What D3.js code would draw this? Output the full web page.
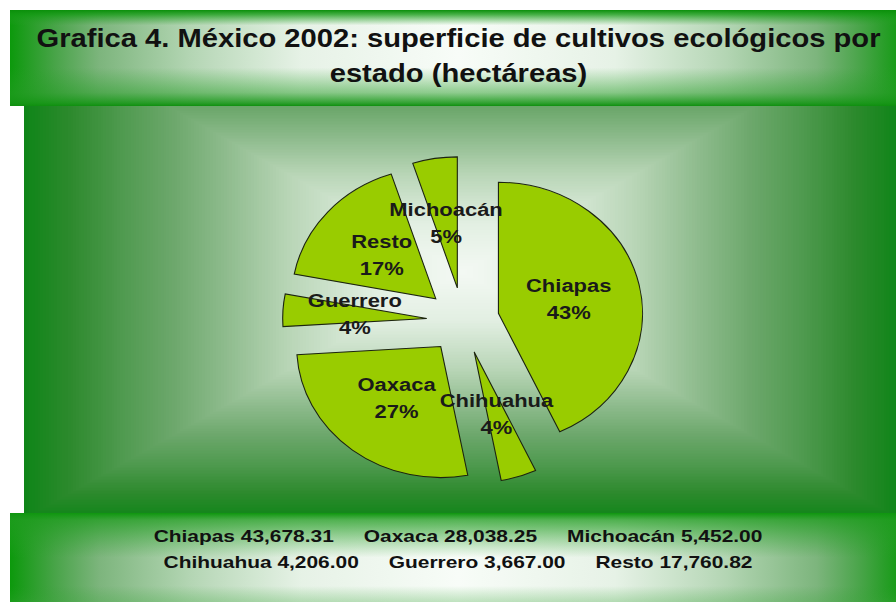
<!DOCTYPE html>
<html>
<head>
<meta charset="utf-8">
<script src="https://cdn.jsdelivr.net/npm/d3@7/dist/d3.min.js"></script>
<style>
  html, body { margin: 0; padding: 0; background: #ffffff; }
  svg { display: block; }
  text { font-family: "Liberation Sans", Arial, Helvetica, sans-serif; font-weight: bold; fill: #111111; }
</style>
</head>
<body>
<svg id="chart" width="896" height="602"></svg>
<script>
// Title lines
const titleLines = ["Grafica 4. México 2002: superficie de cultivos ecológicos por", "estado (hectáreas)"];

// Pie slices, clockwise from twelve o'clock (percent shares)
const pieStates = ["Chiapas", "Chihuahua", "Oaxaca", "Guerrero", "Resto", "Michoacán"];
const piePct = [43, 4, 27, 4, 17, 5];

// Hectares per state, as listed under the chart
const legendStates = ["Chiapas", "Oaxaca", "Michoacán", "Chihuahua", "Guerrero", "Resto"];
const legendHectares = [43678.31, 28038.25, 5452.00, 4206.00, 3667.00, 17760.82];

const W = 896, H = 602;
const svg = d3.select("#chart");
const defs = svg.append("defs");

// ---------- helpers ----------
function stretchCentered(sel, cx, factor) {
  sel.each(function () {
    const w = this.getComputedTextLength() * factor;
    d3.select(this)
      .attr("text-anchor", "start")
      .attr("x", cx - w / 2)
      .attr("textLength", w)
      .attr("lengthAdjust", "spacingAndGlyphs");
  });
}

// ---------- central panel with a rectangular (concentric) gradient ----------
const panel = { x: 24, y: 106, w: 872, h: 407 };
const panelRamp = d3.scaleLinear()
  .domain([0, 0.2, 0.4, 0.55, 0.665, 0.78, 0.894, 1])
  .range(["#f4f9f4", "#e2efe2", "#b8d5b6", "#8cba8b", "#6ca76b", "#4f9a4f", "#2e8a2e", "#0f8518"])
  .interpolate(d3.interpolateRgb);

defs.append("clipPath").attr("id", "panelClip")
  .append("rect").attr("x", panel.x).attr("y", panel.y).attr("width", panel.w).attr("height", panel.h);

const gPanel = svg.append("g").attr("clip-path", "url(#panelClip)");
gPanel.append("rect").attr("x", panel.x).attr("y", panel.y).attr("width", panel.w).attr("height", panel.h)
  .attr("fill", panelRamp(1));
const gc = { x: 462, y: 272, hw: 438, hh: 247 };
const N = 160;
gPanel.selectAll("rect.band").data(d3.range(N, 0, -1)).join("rect")
  .attr("class", "band")
  .attr("shape-rendering", "crispEdges")
  .attr("x", i => gc.x - gc.hw * i / N)
  .attr("y", i => gc.y - gc.hh * i / N)
  .attr("width", i => 2 * gc.hw * i / N)
  .attr("height", i => 2 * gc.hh * i / N)
  .attr("fill", i => panelRamp(i / N));

// ---------- header and footer bands ----------
const bandRamp = d3.scaleLinear()
  .domain([0, 0.35, 0.58, 0.8, 0.89, 1])
  .range(["#f8fcf8", "#e6f2e6", "#b8d8b8", "#7db57d", "#4ea54e", "#0c990c"])
  .interpolate(d3.interpolateRgb);

function makeHorizontalGrad(id, x0, x1, cx) {
  const g = defs.append("linearGradient").attr("id", id)
    .attr("gradientUnits", "userSpaceOnUse")
    .attr("x1", x0).attr("x2", x1).attr("y1", 0).attr("y2", 0);
  d3.range(0, 41).forEach(k => {
    const o = k / 40;
    const x = x0 + o * (x1 - x0);
    const t = x < cx ? (cx - x) / (cx - x0) : (x - cx) / (x1 - cx);
    g.append("stop").attr("offset", o).attr("stop-color", bandRamp(Math.min(1, t)));
  });
}
function makeVerticalGrad(id, stops) {
  const g = defs.append("linearGradient").attr("id", id)
    .attr("x1", 0).attr("x2", 0).attr("y1", 0).attr("y2", 1);
  stops.forEach(s => g.append("stop").attr("offset", s[0]).attr("stop-color", s[1]).attr("stop-opacity", s[2]));
}

makeHorizontalGrad("titleH", 10, 906, 458);
makeVerticalGrad("titleV", [[0, "#0b8f0b", 1], [0.05, "#129a12", 0.75], [0.16, "#2aa02a", 0], [0.6, "#2aa02a", 0], [0.86, "#259c25", 0.5], [0.97, "#159515", 0.88], [1, "#0f8f0f", 1]]);
makeHorizontalGrad("footH", 10, 906, 458);
makeVerticalGrad("footV", [[0, "#0f960f", 1], [0.08, "#1f9c1f", 0.75], [0.5, "#2aa02a", 0], [0.82, "#2aa02a", 0], [1, "#3aa53a", 0.3]]);

const title = { x: 10, y: 10, w: 886, h: 96 };
svg.append("rect").attr("x", title.x).attr("y", title.y).attr("width", title.w).attr("height", title.h).attr("fill", "url(#titleH)");
svg.append("rect").attr("x", title.x).attr("y", title.y).attr("width", title.w).attr("height", title.h).attr("fill", "url(#titleV)");

const foot = { x: 10, y: 513, w: 886, h: 89 };
svg.append("rect").attr("x", foot.x).attr("y", foot.y).attr("width", foot.w).attr("height", foot.h).attr("fill", "url(#footH)");
svg.append("rect").attr("x", foot.x).attr("y", foot.y).attr("width", foot.w).attr("height", foot.h).attr("fill", "url(#footV)");

// ---------- title ----------
const titleCx = 458.5;
const titleBaselines = [47, 81.5];
svg.append("g").selectAll("text").data(titleLines).join("text")
  .attr("y", (d, i) => titleBaselines[i])
  .style("font-size", "26.5px")
  .text(d => d)
  .call(stretchCentered, titleCx, 1.1);

// ---------- exploded pie ----------
const pieCx = 463, pieCy = 320.5, R = 131, sx = 1.1, explode = 33;
const arcs = d3.pie().sort(null).value(d => d)(piePct);
const arcGen = d3.arc().innerRadius(0).outerRadius(R);
const offset = d => {
  const a = (d.startAngle + d.endAngle) / 2;
  return [Math.sin(a) * explode, -Math.cos(a) * explode];
};

const gPie = svg.append("g").attr("transform", `translate(${pieCx},${pieCy}) scale(${sx},1)`);
gPie.selectAll("path").data(arcs).join("path")
  .attr("transform", d => `translate(${offset(d)})`)
  .attr("d", arcGen)
  .attr("fill", "#99cc00")
  .attr("stroke", "#1c2410")
  .attr("stroke-width", 1.1)
  .attr("vector-effect", "non-scaling-stroke")
  .attr("stroke-linejoin", "miter");

// slice labels: name and percent
const gLab = svg.append("g");
arcs.forEach((d, i) => {
  const c = arcGen.centroid(d), o = offset(d);
  const lx = pieCx + sx * (c[0] + o[0]);
  const ly = pieCy + c[1] + o[1];
  gLab.append("text")
    .attr("y", ly - 13.5)
    .attr("dominant-baseline", "central")
    .style("font-size", "18px")
    .style("fill", "#1a1a1a")
    .text(pieStates[i])
    .call(stretchCentered, lx, 1.22);
  gLab.append("text")
    .attr("y", ly + 13.5)
    .attr("dominant-baseline", "central")
    .style("font-size", "18px")
    .style("fill", "#1a1a1a")
    .text(piePct[i] + "%")
    .call(stretchCentered, lx, 1.22);
});

// ---------- hectare listing ----------
const fmt = d3.format(",.2f");
const rows = [[0, 1, 2], [3, 4, 5]];
const rowBaselines = [542, 568];
const rowGap = 30, footStretch = 1.23, footCx = 458;
rows.forEach((row, r) => {
  const texts = row.map(k => svg.append("text")
    .attr("y", rowBaselines[r])
    .style("font-size", "17px")
    .text(legendStates[k] + " " + fmt(legendHectares[k])));
  const widths = texts.map(t => t.node().getComputedTextLength() * footStretch);
  const total = d3.sum(widths) + rowGap * (widths.length - 1);
  let x = footCx - total / 2;
  texts.forEach((t, j) => {
    t.attr("x", x).attr("textLength", widths[j]).attr("lengthAdjust", "spacingAndGlyphs");
    x += widths[j] + rowGap;
  });
});
</script>
</body>
</html>
